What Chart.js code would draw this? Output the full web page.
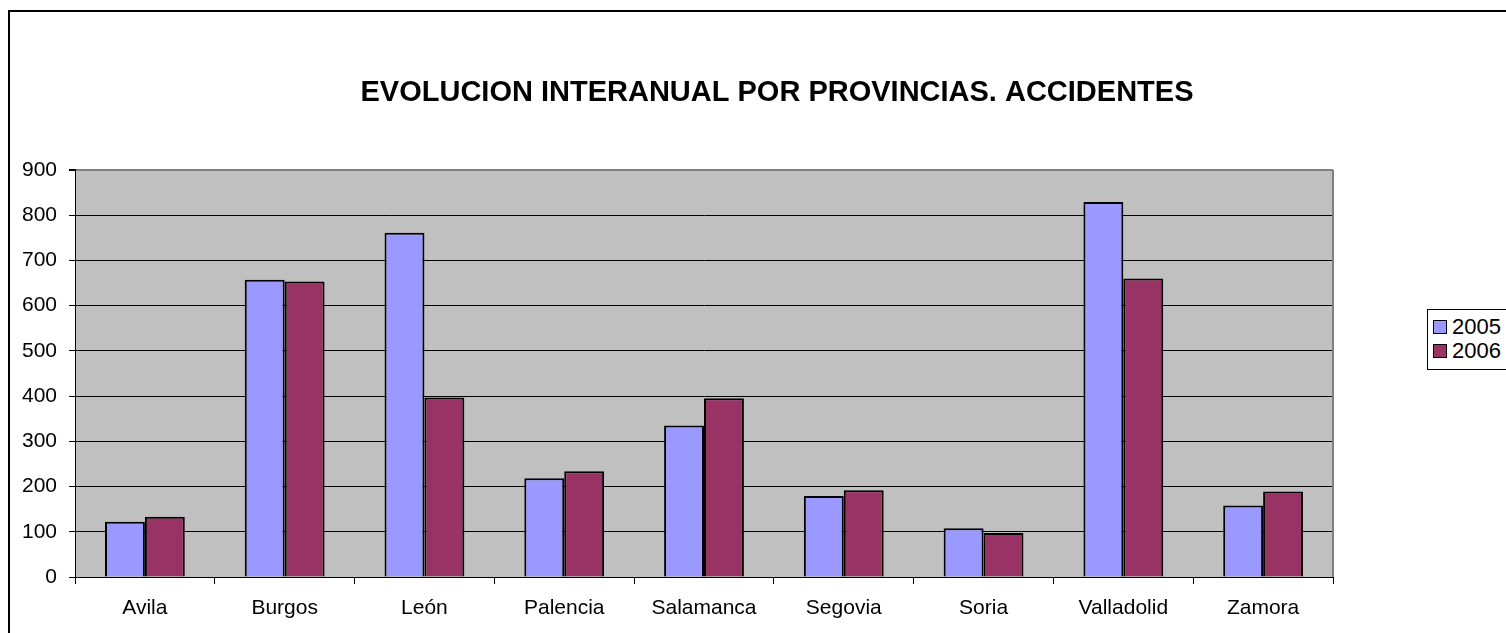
<!DOCTYPE html>
<html>
<head>
<meta charset="utf-8">
<script src="https://cdn.jsdelivr.net/npm/chart.js@4.4.1/dist/chart.umd.min.js"></script>
<style>
  html, body { margin: 0; padding: 0; background: #fff; overflow: hidden; }
  #wrap { position: relative; width: 1506px; height: 633px; overflow: hidden; }
  #frame { position: absolute; left: 8px; top: 10px; width: 1700px; height: 800px; border: 2px solid #000; }
  canvas { position: absolute; left: 0; top: 0; }
  #legend {
    position: absolute; left: 1427px; top: 309px; width: 120px;
    background: #fff; border: 1px solid #000; padding: 5px 0 6px 5px;
    font: 22px "Liberation Sans", Arial, sans-serif; color: #000;
  }
  #legend .item { display: flex; align-items: center; height: 24px; }
  #legend .box { width: 12px; height: 12px; border: 1.5px solid #000; margin-right: 5px; }
</style>
</head>
<body>
<div id="wrap">
  <div id="frame"></div>
  <canvas id="chart" width="1554" height="633"></canvas>
  <div id="legend"></div>
</div>
<script>
// ── Datos ────────────────────────────────────────────────
const provincias = ['Avila', 'Burgos', 'León', 'Palencia', 'Salamanca', 'Segovia', 'Soria', 'Valladolid', 'Zamora'];
const acc2005    = [122, 657, 761, 218, 335, 179, 108, 829, 158];
const acc2006    = [133, 653, 397, 234, 395, 192,  97, 660, 189];
const yTicks     = [0, 100, 200, 300, 400, 500, 600, 700, 800, 900];

const FONT = '"Liberation Sans", Arial, sans-serif';

// fondo gris del área de trazado + borde derecho
const plotBg = {
    id: 'plotBg',
    beforeDraw(chart) {
        const { ctx, chartArea: a } = chart;
        ctx.save();
        ctx.fillStyle = '#C0C0C0';
        ctx.fillRect(a.left, a.top, a.right - a.left, a.bottom - a.top);
        ctx.restore();
    },
    afterDatasetsDraw(chart) {
        const { ctx, chartArea: a } = chart;
        ctx.save();
        ctx.strokeStyle = '#808080';
        ctx.lineWidth = 2;
        ctx.beginPath();
        ctx.moveTo(a.right, a.top);
        ctx.lineTo(a.right, a.bottom);
        ctx.stroke();
        ctx.restore();
    }
};

const chart = new Chart(document.getElementById('chart'), {
    type: 'bar',
    data: {
        labels: provincias,
        datasets: [
            { label: '2005', data: acc2005, backgroundColor: '#9999FF', borderColor: '#000', borderWidth: 2 },
            { label: '2006', data: acc2006, backgroundColor: '#993366', borderColor: '#000', borderWidth: 2 }
        ]
    },
    options: {
        responsive: false,
        animation: false,
        categoryPercentage: 0.571,
        barPercentage: 1,
        layout: { padding: 0 },
        plugins: {
            legend: { display: false },
            tooltip: { enabled: false },
            title: {
                display: true,
                text: 'EVOLUCION INTERANUAL POR PROVINCIAS. ACCIDENTES',
                color: '#000',
                font: { family: FONT, size: 29, weight: 'bold' },
                padding: { top: 76, bottom: 59 }
            }
        },
        scales: {
            x: {
                afterFit: (s) => { s.height = 56; },
                grid: { offset: true, drawOnChartArea: false, color: '#000', tickLength: 7 },
                border: { color: '#000', width: 1 },
                ticks: { color: '#000', padding: 12, font: { family: FONT, size: 21 } }
            },
            y: {
                min: 0, max: 900,
                afterFit: (s) => { s.width = 75; },
                afterBuildTicks: (s) => { s.ticks = yTicks.map(v => ({ value: v })); },
                grid: {
                    color: (c) => c.tick && c.tick.value === 900 ? '#808080' : '#000',
                    lineWidth: (c) => c.tick && c.tick.value === 900 ? 2 : 1,
                    tickColor: '#000',
                    tickLength: 6
                },
                border: { color: '#000', width: 1 },
                ticks: { color: '#000', padding: 12, font: { family: FONT, size: 21 } }
            },
            // espacio vacío a la derecha (zona de la leyenda)
            ySpace: {
                position: 'right',
                min: 0, max: 900,
                afterFit: (s) => { s.width = 221; },
                grid: { display: false },
                border: { display: false },
                ticks: { display: false }
            }
        }
    },
    plugins: [plotBg]
});

// leyenda a partir de los datasets
const legendEl = document.getElementById('legend');
chart.data.datasets.forEach(ds => {
    const item = document.createElement('div');
    item.className = 'item';
    const box = document.createElement('span');
    box.className = 'box';
    box.style.background = ds.backgroundColor;
    item.appendChild(box);
    item.appendChild(document.createTextNode(ds.label));
    legendEl.appendChild(item);
});
</script>
</body>
</html>
